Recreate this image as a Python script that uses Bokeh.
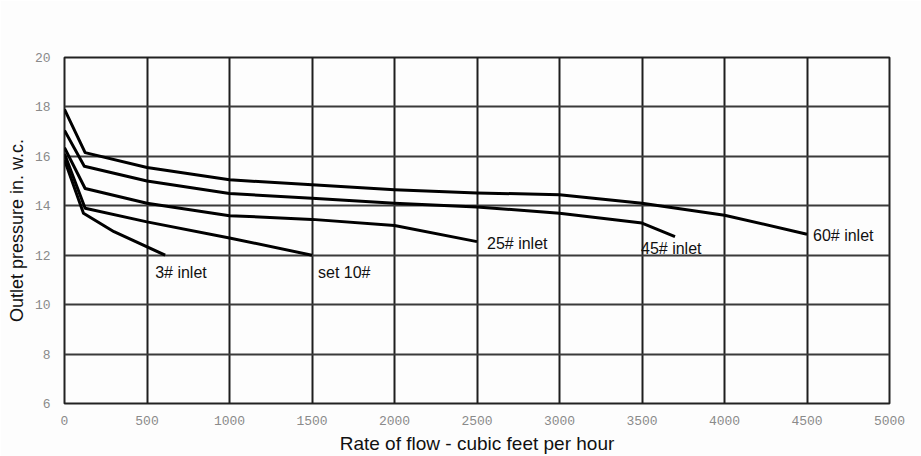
from bokeh.plotting import figure
from bokeh.models import Range1d, FixedTicker
from bokeh.embed import file_html
from bokeh.resources import INLINE

# Regulator outlet pressure vs. flow for each inlet pressure
flow_60 = [0, 125, 500, 1000, 1500, 2000, 2500, 3000, 3500, 4000, 4500]
pres_60 = [17.9, 16.15, 15.55, 15.05, 14.85, 14.65, 14.52, 14.45, 14.1, 13.62, 12.85]

flow_45 = [0, 120, 500, 1000, 1500, 2000, 2500, 3000, 3500, 3700]
pres_45 = [17.05, 15.6, 15.0, 14.5, 14.3, 14.1, 13.95, 13.7, 13.3, 12.75]

flow_25 = [0, 125, 500, 1000, 1500, 2000, 2500]
pres_25 = [16.35, 14.7, 14.1, 13.6, 13.45, 13.2, 12.55]

flow_10 = [0, 125, 500, 1000, 1500]
pres_10 = [16.1, 13.9, 13.35, 12.7, 12.0]

flow_3 = [0, 115, 300, 610]
pres_3 = [15.85, 13.7, 12.95, 12.0]

curve_labels = ["60# inlet", "45# inlet", "25# inlet", "set 10#", "3# inlet"]

x_ticks = [0, 500, 1000, 1500, 2000, 2500, 3000, 3500, 4000, 4500, 5000]
y_ticks = [6, 8, 10, 12, 14, 16, 18, 20]

p = figure(width=921, height=456, output_backend="svg", toolbar_location=None,
           x_range=Range1d(0, 5000), y_range=Range1d(6, 20),
           min_border_left=64, min_border_right=32, min_border_top=57,
           min_border_bottom=52)
p.background_fill_color = "#fdfdfd"
p.border_fill_color = "#fdfdfd"
p.outline_line_color = "#222222"
p.outline_line_width = 2

for ax, ticks in ((p.xaxis[0], x_ticks), (p.yaxis[0], y_ticks)):
    ax.ticker = FixedTicker(ticks=ticks)
    ax.axis_line_color = None
    ax.major_tick_line_color = None
    ax.minor_tick_line_color = None
    ax.major_label_text_font = "Liberation Mono"
    ax.major_label_text_font_size = "13px"
    ax.major_label_text_color = "#8a8a8a"
    ax.axis_label_text_font = "Liberation Sans"
    ax.axis_label_text_font_style = "normal"
    ax.axis_label_text_color = "#111111"

p.xaxis.axis_label = "Rate of flow - cubic feet per hour"
p.yaxis.axis_label = "Outlet pressure in. w.c."
p.xaxis.axis_label_text_font_size = "19px"
p.yaxis.axis_label_text_font_size = "18px"
p.xaxis.major_label_standoff = 6
p.yaxis.major_label_standoff = 8
p.xaxis.axis_label_standoff = 5
p.yaxis.axis_label_standoff = 5

p.xgrid.ticker = FixedTicker(ticks=x_ticks)
p.ygrid.ticker = FixedTicker(ticks=y_ticks)
p.xgrid.grid_line_color = "#1e1e1e"
p.xgrid.grid_line_width = 2
p.ygrid.grid_line_color = "#3a3a3a"
p.ygrid.grid_line_width = 2

series = [(flow_60, pres_60), (flow_45, pres_45), (flow_25, pres_25),
          (flow_10, pres_10), (flow_3, pres_3)]
# label offsets from each curve's end point, in screen pixels
offsets = [(6, 1), (-34, 12), (10, 2), (6, 17), (-10, 17)]

for (xs, ys), name, (dx, dy) in zip(series, curve_labels, offsets):
    p.line(xs, ys, line_color="black", line_width=3, line_join="round")
    p.text(x=[xs[-1]], y=[ys[-1]], text=[name], x_offset=dx, y_offset=dy,
           text_font_size="16px", text_color="#111111",
           text_baseline="middle", text_align="left",
           text_font={"value": "Liberation Sans"})

open("out.html", "w").write(file_html(p, INLINE))
